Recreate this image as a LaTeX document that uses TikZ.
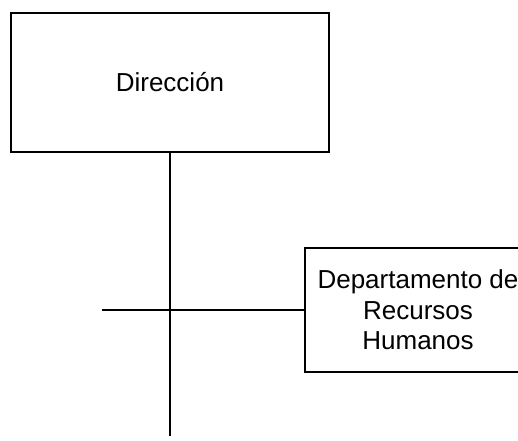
\documentclass[tikz,border=0pt]{standalone}
\usepackage{fontspec}
\setmainfont{Liberation Sans}
\tikzstyle{JEFE} = [rectangle, minimum width=159pt, minimum height=69.5pt, text centered, draw=black, line width=0.65pt, font=\fontsize{13}{15.3}\selectfont]
\tikzstyle{AREA} = [rectangle, minimum width=113pt, minimum height=62pt, align=center, inner sep=0pt, draw=black, line width=0.65pt, font=\fontsize{13}{15.3}\selectfont]
\tikzstyle{linea} = [line width=0.65pt]
\begin{document}
\begin{tikzpicture}[x=0.5pt, y=-0.5pt]
  \useasboundingbox (0,0) rectangle (518,440);
  \clip (0,0) rectangle (518,440);

  \node(direccion)[JEFE] at (170,82.5){Dirección};
  \node(rrhh)[AREA] at (418,310){Departamento de\\Recursos\\Humanos};
  \coordinate(fin) at (170,436);
  \coordinate(izq) at (102,310);
%  tronco y rama
  \draw[linea] (direccion.south) -- (fin);
  \draw[linea] (izq) -- (rrhh.west);

\end{tikzpicture}
\end{document}
